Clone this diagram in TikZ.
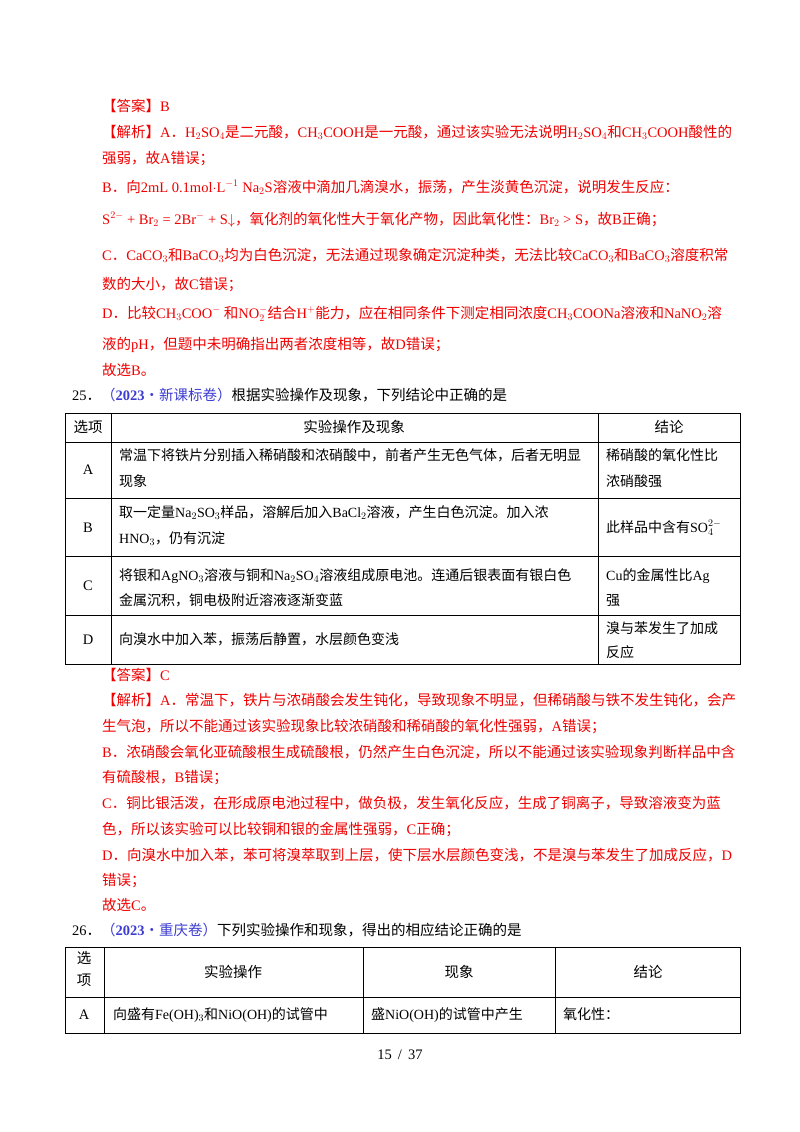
\documentclass[tikz,border=0pt]{standalone}
\usepackage{fontspec}
\setmainfont{Noto Sans CJK SC}
\newfontfamily\tms{Liberation Serif}
\definecolor{ans}{RGB}{240,0,0}
\definecolor{src}{RGB}{60,60,210}
\newcommand{\ch}[1]{{\tms #1}}
\begin{document}
\begin{tikzpicture}[x=1pt,y=-1pt,
  t/.style={anchor=base west,inner sep=0pt,font=\fontsize{14.5}{16}\selectfont},
  tc/.style={anchor=base west,inner sep=0pt,font=\fontsize{14}{16}\selectfont},
  r/.style={t,text=ans},
  c/.style={anchor=base,inner sep=0pt,font=\fontsize{14.5}{16}\selectfont},
  grid/.style={line width=0.8pt}]
\useasboundingbox (0,0) rectangle (800,1132);
\fill[white] (0,0) rectangle (800,1132);
% answer 24
\node[r] (a1) at (102,111) {【答案】\ch{B}};
\node[r] (a2) at (102,137) {【解析】\ch{A}．\ch{H$_2$SO$_4$}是二元酸，\ch{CH$_3$COOH}是一元酸，通过该实验无法说明\ch{H$_2$SO$_4$}和\ch{CH$_3$COOH}酸性的};
\node[r] (a3) at (102,163) {强弱，故\ch{A}错误；};
\node[r] (a4) at (102,192) {\ch{B}．向\ch{2mL 0.1mol$\cdot$L$^{-1}$ Na$_2$S}溶液中滴加几滴溴水，振荡，产生淡黄色沉淀，说明发生反应：};
\node[r] (a5) at (102,224) {\ch{S$^{2-}$ + Br$_2$ = 2Br$^-$ + S$\downarrow$}，氧化剂的氧化性大于氧化产物，因此氧化性：\ch{Br$_2$ > S}，故\ch{B}正确；};
\node[r] (a6) at (102,260) {\ch{C}．\ch{CaCO$_3$}和\ch{BaCO$_3$}均为白色沉淀，无法通过现象确定沉淀种类，无法比较\ch{CaCO$_3$}和\ch{BaCO$_3$}溶度积常};
\node[r] (a7) at (102,289) {数的大小，故\ch{C}错误；};
\node[r] (a8) at (102,318) {\ch{D}．比较\ch{CH$_3$COO$^-$} 和\ch{NO$_2^-$}结合\ch{H$^+$}能力，应在相同条件下测定相同浓度\ch{CH$_3$COONa}溶液和\ch{NaNO$_2$}溶};
\node[r] (a9) at (102,349) {液的\ch{pH}，但题中未明确指出两者浓度相等，故\ch{D}错误；};
\node[r] (a10) at (102,375) {故选\ch{B}。};
\node[t] (q25) at (72,400) {\ch{25}．\textcolor{src}{（\ch{\bfseries 2023}·新课标卷）}根据实验操作及现象，下列结论中正确的是};
% table 1
\draw[grid] (65,413) rectangle (740,664);
\foreach \y in {442,498,556,615} \draw[grid] (65,\y) -- (740,\y);
\draw[grid] (111,413) -- (111,664);
\draw[grid] (598,413) -- (598,664);
\node[c] (h1) at (88,432) {选项};
\node[c] (h2) at (354,432) {实验操作及现象};
\node[c] (h3) at (669,432) {结论};
\node[c] (rA) at (88,474) {\ch{A}};
\node[tc] (A1) at (119,460) {常温下将铁片分别插入稀硝酸和浓硝酸中，前者产生无色气体，后者无明显};
\node[tc] (A2) at (119,486) {现象};
\node[tc] (A3) at (606,460) {稀硝酸的氧化性比};
\node[tc] (A4) at (606,486) {浓硝酸强};
\node[c] (rB) at (88,532) {\ch{B}};
\node[tc] (B1) at (119,517) {取一定量\ch{Na$_2$SO$_3$}样品，溶解后加入\ch{BaCl$_2$}溶液，产生白色沉淀。加入浓};
\node[tc] (B2) at (119,543) {\ch{HNO$_3$}，仍有沉淀};
\node[tc] (B3) at (606,532) {此样品中含有\ch{SO$_4^{2-}$}};
\node[c] (rC) at (88,590) {\ch{C}};
\node[tc] (C1) at (119,580) {将银和\ch{AgNO$_3$}溶液与铜和\ch{Na$_2$SO$_4$}溶液组成原电池。连通后银表面有银白色};
\node[tc] (C2) at (119,605) {金属沉积，铜电极附近溶液逐渐变蓝};
\node[tc] (C3) at (606,580) {\ch{Cu}的金属性比\ch{Ag}};
\node[tc] (C4) at (606,605) {强};
\node[c] (rD) at (88,644) {\ch{D}};
\node[tc] (D1) at (119,644) {向溴水中加入苯，振荡后静置，水层颜色变浅};
\node[tc] (D2) at (606,633) {溴与苯发生了加成};
\node[tc] (D3) at (606,657) {反应};
% answer 25
\node[r] (b1) at (102,680) {【答案】\ch{C}};
\node[r] (b2) at (102,705) {【解析】\ch{A}．常温下，铁片与浓硝酸会发生钝化，导致现象不明显，但稀硝酸与铁不发生钝化，会产};
\node[r] (b3) at (102,731) {生气泡，所以不能通过该实验现象比较浓硝酸和稀硝酸的氧化性强弱，\ch{A}错误；};
\node[r] (b4) at (102,757) {\ch{B}．浓硝酸会氧化亚硫酸根生成硫酸根，仍然产生白色沉淀，所以不能通过该实验现象判断样品中含};
\node[r] (b5) at (102,782) {有硫酸根，\ch{B}错误；};
\node[r] (b6) at (102,808) {\ch{C}．铜比银活泼，在形成原电池过程中，做负极，发生氧化反应，生成了铜离子，导致溶液变为蓝};
\node[r] (b7) at (102,834) {色，所以该实验可以比较铜和银的金属性强弱，\ch{C}正确；};
\node[r] (b8) at (102,860) {\ch{D}．向溴水中加入苯，苯可将溴萃取到上层，使下层水层颜色变浅，不是溴与苯发生了加成反应，\ch{D}};
\node[r] (b9) at (102,885) {错误；};
\node[r] (b10) at (102,910) {故选\ch{C}。};
\node[t] (q26) at (72,935) {\ch{26}．\textcolor{src}{（\ch{\bfseries 2023}·重庆卷）}下列实验操作和现象，得出的相应结论正确的是};
% table 2
\draw[grid] (65,947) rectangle (740,1033);
\draw[grid] (65,997) -- (740,997);
\foreach \x in {104,363,555} \draw[grid] (\x,947) -- (\x,1033);
\node[c] (g1) at (84,963) {选};
\node[c] (g2) at (84,985) {项};
\node[c] (g3) at (233,977) {实验操作};
\node[c] (g4) at (459,977) {现象};
\node[c] (g5) at (648,977) {结论};
\node[c] (rA2) at (84,1019) {\ch{A}};
\node[tc] (e1) at (113,1019) {向盛有\ch{Fe(OH)$_3$}和\ch{NiO(OH)}的试管中};
\node[tc] (e2) at (371,1019) {盛\ch{NiO(OH)}的试管中产生};
\node[tc] (e3) at (563,1019) {氧化性：};
\node[c] (pg) at (400,1059) {\ch{15 \,/\, 37}};
\end{tikzpicture}
\end{document}
